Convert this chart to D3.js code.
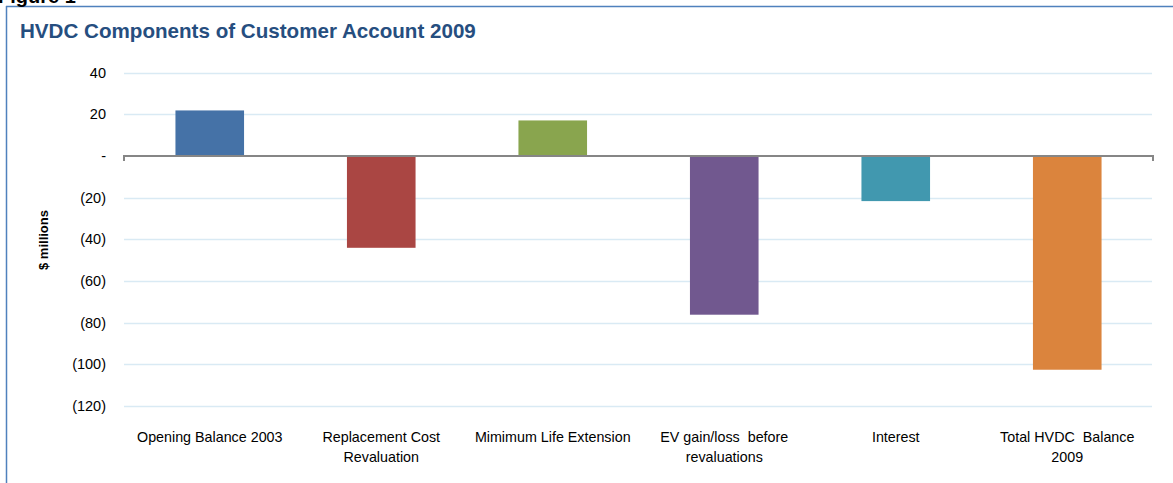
<!DOCTYPE html>
<html>
<head>
<meta charset="utf-8">
<script src="https://cdn.jsdelivr.net/npm/d3@7"></script>
<style>
  html, body { margin: 0; padding: 0; background: #fff; }
  svg { display: block; }
</style>
</head>
<body>
<svg id="chart" width="1173" height="483"></svg>
<script>
// Category labels, already split into the lines they wrap onto
const categories = [
  ["Opening Balance 2003"],
  ["Replacement Cost", "Revaluation"],
  ["Mimimum Life Extension"],
  ["EV gain/loss  before", "revaluations"],
  ["Interest"],
  ["Total HVDC  Balance", "2009"]
];
// $ millions
const values = [21.8, -44.1, 17.0, -76.2, -21.7, -102.6];
const barColors = ["#4572a7", "#aa4643", "#89a54e", "#71588f", "#4198af", "#db843d"];
const tickValues = [40, 20, 0, -20, -40, -60, -80, -100, -120];

const svg = d3.select("#chart");
const W = 1173, H = 483;
const plotLeft = 124, plotRight = 1153, plotTop = 72.5, plotBottom = 406;
const font = "Liberation Sans, Arial, sans-serif";

// Frame of the figure panel
svg.append("line").attr("x1", 6).attr("x2", W).attr("y1", 6.5).attr("y2", 6.5)
  .attr("stroke", "#4f81bd").attr("stroke-width", 1.5);
svg.append("line").attr("x1", 6.5).attr("x2", 6.5).attr("y1", 6).attr("y2", H)
  .attr("stroke", "#4f81bd").attr("stroke-width", 1.5);

// Caption above the panel (mostly clipped by the top edge)
svg.append("text").attr("x", -2).attr("y", 3)
  .attr("font-family", font)
  .attr("font-weight", "bold").attr("font-size", 20).attr("fill", "#000")
  .text("Figure 1");

// Title
svg.append("text").attr("x", 20).attr("y", 38)
  .attr("font-family", font)
  .attr("font-weight", "bold").attr("font-size", 20.6).attr("fill", "#264e7f")
  .text("HVDC Components of Customer Account 2009");

const x = d3.scaleBand().domain(d3.range(categories.length))
  .range([plotLeft, plotRight]).paddingInner(0.6).paddingOuter(0.3);
const y = d3.scaleLinear().domain([-120, 40]).range([plotBottom, plotTop]);

const fmt = v => v === 0 ? "-" : (v < 0 ? "(" + Math.abs(v) + ")" : String(v));

// Gridlines
svg.append("g").selectAll("line").data(tickValues.filter(v => v !== 0)).join("line")
  .attr("x1", plotLeft).attr("x2", plotRight - 1)
  .attr("y1", d => Math.round(y(d)) + 0.5).attr("y2", d => Math.round(y(d)) + 0.5)
  .attr("stroke", "#d9eaf4").attr("stroke-width", 1.5);

// Y axis labels
const yAxis = d3.axisLeft(y).tickValues(tickValues).tickFormat(fmt).tickSize(0).tickPadding(0);
const gy = svg.append("g").attr("transform", `translate(106,0)`).call(yAxis);
gy.select(".domain").remove();
gy.selectAll("text")
  .attr("font-family", font)
  .attr("font-size", 14.5).attr("fill", "#000");

// Bars
svg.append("g").selectAll("rect").data(values).join("rect")
  .attr("x", (d, i) => x(i))
  .attr("width", x.bandwidth())
  .attr("y", d => y(Math.max(0, d)))
  .attr("height", d => Math.abs(y(d) - y(0)))
  .attr("fill", (d, i) => barColors[i]);

// Category axis along zero
const y0 = y(0);
svg.append("path")
  .attr("d", `M${plotLeft},${y0 + 5}V${y0}H${plotRight}V${y0 + 5}`)
  .attr("fill", "none").attr("stroke", "#868686").attr("stroke-width", 2);

// Category labels
const gx = svg.append("g");
categories.forEach((lines, i) => {
  const cx = x(i) + x.bandwidth() / 2;
  const t = gx.append("text")
    .attr("x", cx).attr("y", 442)
    .attr("text-anchor", "middle")
    .attr("font-family", font)
    .attr("font-size", 14.3).attr("fill", "#000")
    .style("white-space", "pre");
  lines.forEach((s, j) => {
    t.append("tspan").attr("x", cx).attr("dy", j === 0 ? 0 : 20).text(s);
  });
});

// Y axis title
svg.append("text")
  .attr("transform", "translate(48,240) rotate(-90)")
  .attr("text-anchor", "middle")
  .attr("font-family", font)
  .attr("font-weight", "bold").attr("font-size", 13).attr("fill", "#000")
  .text("$ millions");
</script>
</body>
</html>
